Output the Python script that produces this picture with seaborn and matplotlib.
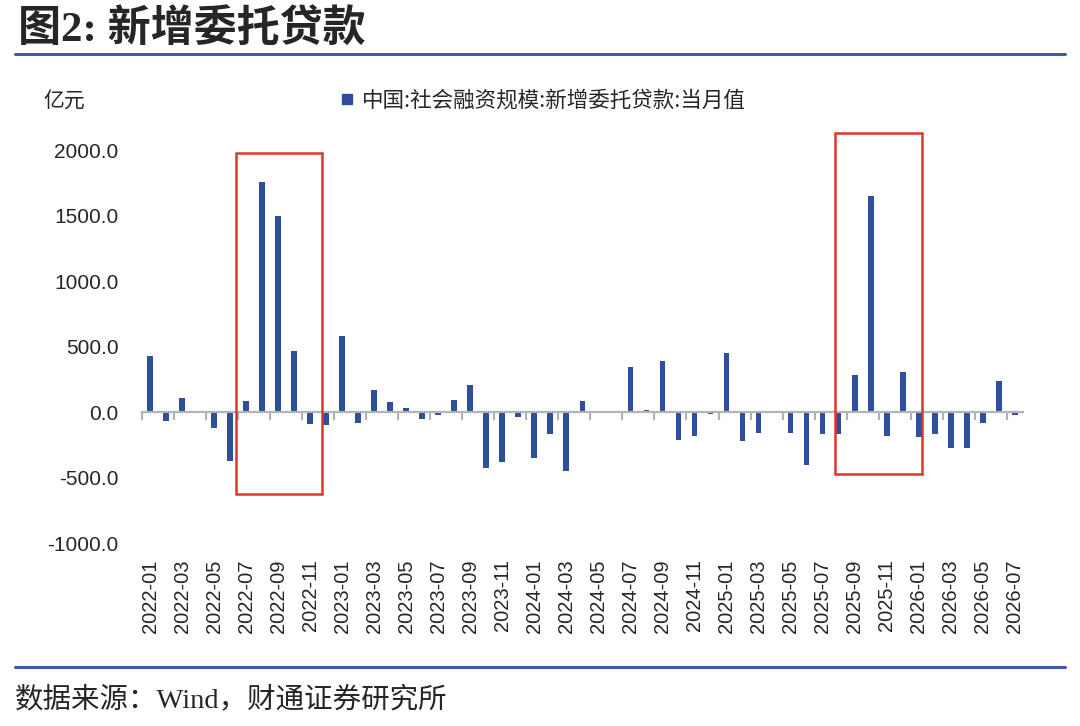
import numpy as np
import pandas as pd
import matplotlib
matplotlib.use('Agg')
import matplotlib.pyplot as plt
from matplotlib.lines import Line2D
from matplotlib.patches import Rectangle
import seaborn as sns

# ============================================
# DATA (亿元, 当月值)
# ============================================
months = pd.period_range('2022-01', '2026-07', freq='M').strftime('%Y-%m').tolist()

values = [430, -70, 110, 0, -120, -370, 85, 1760, 1500, 470, -90, -100,   # 2022
          580, -80, 170, 75, 30, -50, -20, 95, 210, -430, -380, -40,      # 2023
          -350, -170, -450, 85, 0, 0, 345, 15, 390, -210, -180, -15,      # 2024
          450, -220, -160, 0, -160, -400, -170, -165, 280, 1650, -180, 305,  # 2025
          -190, -170, -275, -275, -85, 240, -25]                          # 2026

series_name = '中国:社会融资规模:新增委托贷款:当月值'
y_ticks = [-1000, -500, 0, 500, 1000, 1500, 2000]
y_labels = ['-1000.0', '-500.0', '0.0', '500.0', '1000.0', '1500.0', '2000.0']

# highlight boxes: (left month, shift, right month, shift, low, high)
boxes = [('2022-06', 0.375, '2022-11', 0.75, -626, 1976),
         ('2025-08', -0.25, '2026-01', 0.2, -473, 2136)]

df = pd.DataFrame({'month': months, 'value': values})

# ============================================
# STYLE
# ============================================
sns.set_theme(style='white')
plt.rcParams['font.family'] = ['Noto Sans CJK SC', 'DejaVu Sans']
plt.rcParams['axes.unicode_minus'] = False

bar_color = '#2d4f9e'
red = '#e0352b'
rule_blue = '#3d5aa6'
axis_grey = '#b4b4b4'

fig = plt.figure(figsize=(10.8, 7.26), dpi=100)
ax = fig.add_axes([0.1315, 0.252, 0.8155, 0.577])

sns.barplot(data=df, x='month', y='value', color=bar_color,
            width=0.36, saturation=1, linewidth=0, ax=ax)

ax.set_xlim(-0.5, len(months) - 0.5)
ax.set_ylim(-1000, 2200)
ax.set_xlabel('')
ax.set_ylabel('')

# y axis
ax.set_yticks(y_ticks)
ax.set_yticklabels(y_labels, family=['Liberation Sans', 'DejaVu Sans'], fontsize=15)
ax.tick_params(axis='y', left=False, length=0, pad=17)

# x axis sits on zero line, labels pushed down to the bottom
for s in ['left', 'right', 'top']:
    ax.spines[s].set_visible(False)
ax.spines['bottom'].set_position(('data', 0))
ax.spines['bottom'].set_color(axis_grey)
ax.spines['bottom'].set_linewidth(1.6)

idx = np.arange(len(months))
ax.set_xticks(idx[::2])
ax.set_xticklabels(months[::2], rotation=90,
                   family=['Liberation Sans', 'DejaVu Sans'], fontsize=14.5)
ax.set_xticks(idx[::2] - 0.5, minor=True)
ax.tick_params(axis='x', which='major', bottom=False, length=0, pad=106)
ax.tick_params(axis='x', which='minor', bottom=True, direction='out', length=6,
               width=1.6, color=axis_grey)

# red highlight boxes
for start, s_shift, end, e_shift, low, high in boxes:
    x0 = months.index(start) + s_shift
    x1 = months.index(end) + e_shift
    ax.add_patch(Rectangle((x0, low), x1 - x0, high - low, fill=False,
                           edgecolor=red, linewidth=1.8, clip_on=False, zorder=5))

# legend
handle = Line2D([], [], marker='s', linestyle='', color=bar_color, markersize=7)
fig.legend([handle], [series_name], loc='center', bbox_to_anchor=(0.502, 0.861),
           frameon=False, fontsize=15.5, handletextpad=0.3, handlelength=0.8)

# unit label
fig.text(0.04, 0.862, '亿元', fontsize=15, va='center', ha='left')

# title and rules
fig.text(0.017, 0.959, '图2: 新增委托贷款', fontsize=31, fontweight='bold',
         va='center', ha='left', family=['Liberation Serif', 'Noto Sans CJK SC'])
fig.add_artist(Line2D([0.014, 0.986], [0.926, 0.926], color=rule_blue, linewidth=2.2))
fig.add_artist(Line2D([0.014, 0.986], [0.081, 0.081], color=rule_blue, linewidth=2.2))

fig.text(0.014, 0.036, '数据来源：Wind，财通证券研究所', fontsize=20.5,
         va='center', ha='left', family=['Liberation Serif', 'Noto Sans CJK SC'])

plt.savefig('out.png', dpi=100)
